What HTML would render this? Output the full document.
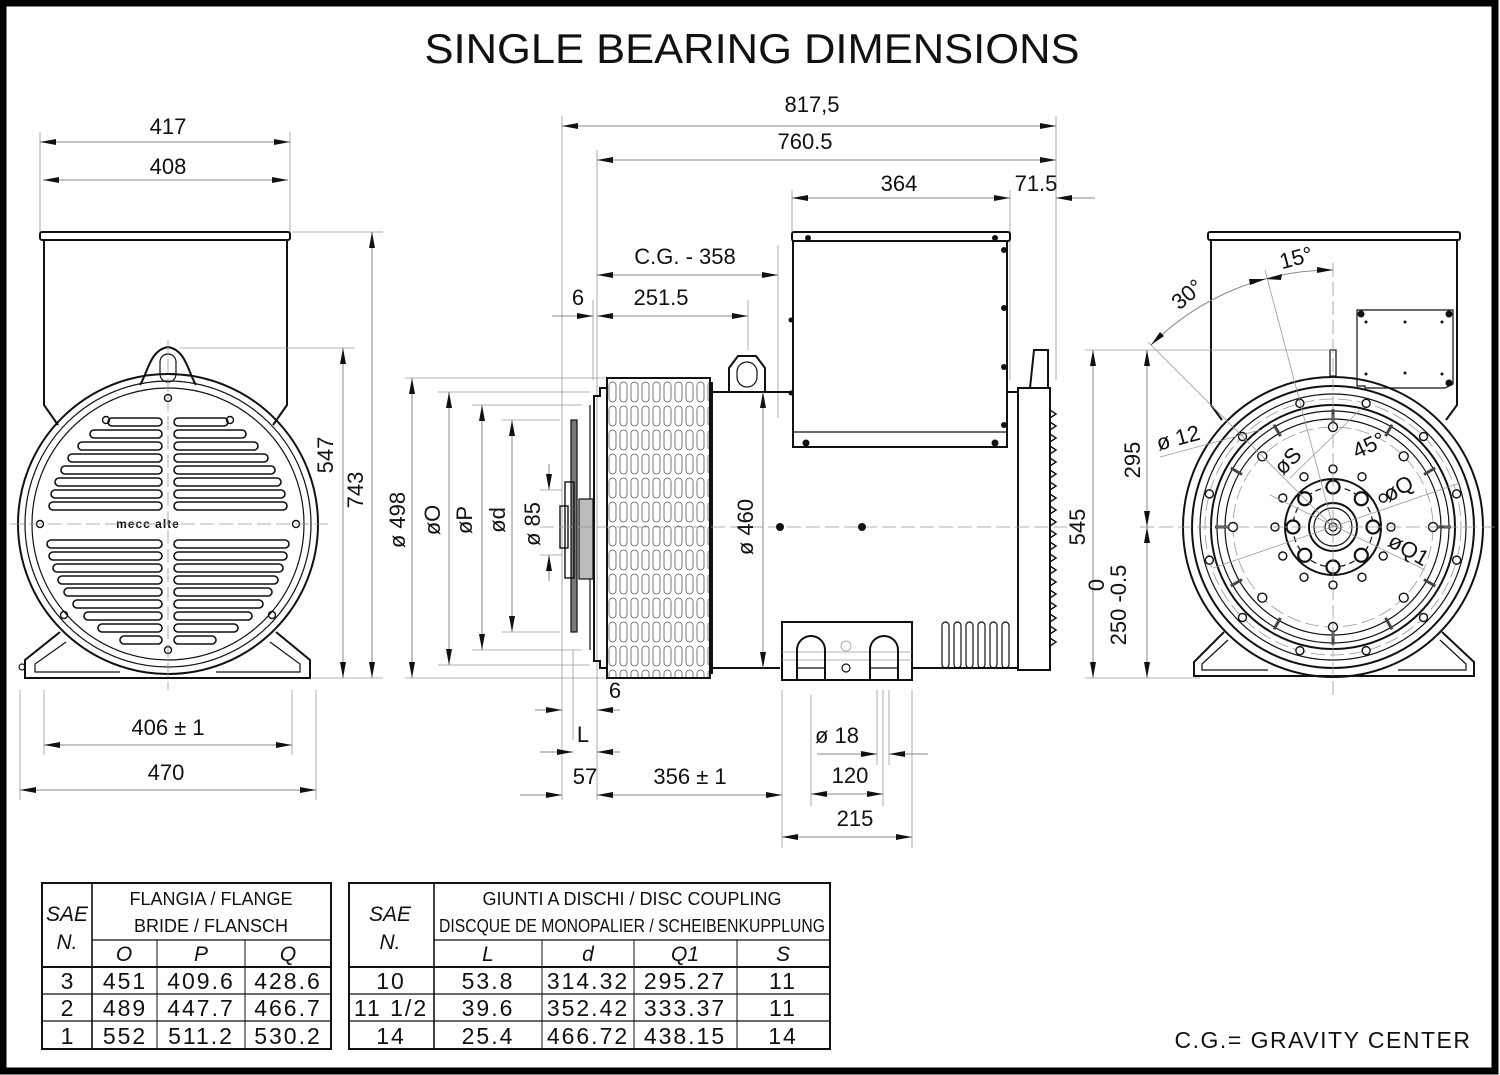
<!DOCTYPE html>
<html><head><meta charset="utf-8"><style>
html,body{margin:0;padding:0;background:#fff}
svg{display:block}
text{font-family:"Liberation Sans",sans-serif;fill:#111}
.d{stroke:#8a8a8a;stroke-width:1;fill:none}
.e{stroke:#9a9a9a;stroke-width:0.8;fill:none}
.k{stroke:#111;stroke-width:2;fill:none}
.t{stroke:#111;stroke-width:1.2;fill:none}
.c{stroke:#999;stroke-width:0.8;fill:none;stroke-dasharray:14 5}
.dt{font-size:22px}
.tb{font-size:23px;letter-spacing:2px}
.th{font-size:18px}
</style></head><body>
<svg width="1500" height="1075" viewBox="0 0 1500 1075" xmlns="http://www.w3.org/2000/svg">
<defs>
<marker id="a" viewBox="0 0 16 6" refX="16" refY="3" markerWidth="16" markerHeight="6" markerUnits="userSpaceOnUse" orient="auto-start-reverse"><path d="M0,0 L16,3 L0,6z" fill="#111"/></marker>
<pattern id="g" x="607" y="380" width="11" height="24" patternUnits="userSpaceOnUse"><rect x="2" y="2" width="7" height="20" rx="3.5" fill="none" stroke="#555" stroke-width="0.8"/></pattern>
</defs>
<rect x="0" y="0" width="1500" height="1075" fill="#fff"/>
<rect x="3" y="3" width="1492" height="1068" fill="none" stroke="#000" stroke-width="7"/>

<text x="752" y="63" font-size="42" text-anchor="middle" textLength="655" lengthAdjust="spacingAndGlyphs">SINGLE BEARING DIMENSIONS</text>

<!-- ============ LEFT VIEW ============ -->
<g>
<line class="e" x1="40" y1="132" x2="40" y2="232"/><line class="e" x1="290" y1="132" x2="290" y2="232"/>
<line class="d" x1="40" y1="142" x2="290" y2="142" marker-start="url(#a)" marker-end="url(#a)"/>
<text class="dt" x="168" y="134" text-anchor="middle">417</text>
<line class="d" x1="43" y1="180" x2="288" y2="180" marker-start="url(#a)" marker-end="url(#a)"/>
<text class="dt" x="168" y="174" text-anchor="middle">408</text>
<rect class="k" x="40" y="232" width="250" height="8" rx="2"/>
<path class="k" d="M44,240 V405 L58,425 M287,240 V405 L273,425"/>
<circle class="k" cx="168" cy="524" r="150" stroke-width="3"/>
<circle class="t" cx="168" cy="524" r="143"/>
<circle class="t" cx="168" cy="524" r="136"/>
<path class="k" d="M140,385 C148,372 150,350 168,347 C186,350 188,372 196,385"/>
<rect class="t" x="160" y="354" width="16" height="28" rx="8"/>
<path class="k" d="M60,632 L25,660 L25,678 L310,678 L310,660 L276,632"/>
<path class="t" d="M66,642 L35,664 L35,672 L120,672 M216,672 L300,672 L300,664 L270,642"/>
<circle class="t" cx="22" cy="667" r="3"/>
<g fill="none" stroke="#111" stroke-width="1.6">
<rect x="108" y="418" width="54" height="8" rx="4"/><rect x="174" y="418" width="54" height="8" rx="4"/>
<rect x="90" y="430" width="72" height="8" rx="4"/><rect x="174" y="430" width="72" height="8" rx="4"/>
<rect x="78" y="442" width="84" height="8" rx="4"/><rect x="174" y="442" width="84" height="8" rx="4"/>
<rect x="68" y="454" width="94" height="8" rx="4"/><rect x="174" y="454" width="94" height="8" rx="4"/>
<rect x="61" y="466" width="101" height="8" rx="4"/><rect x="174" y="466" width="101" height="8" rx="4"/>
<rect x="55" y="478" width="107" height="8" rx="4"/><rect x="174" y="478" width="107" height="8" rx="4"/>
<rect x="51" y="490" width="111" height="8" rx="4"/><rect x="174" y="490" width="111" height="8" rx="4"/>
<rect x="49" y="502" width="113" height="8" rx="4"/><rect x="174" y="502" width="113" height="8" rx="4"/>
<rect x="47" y="540" width="115" height="8" rx="4"/><rect x="174" y="540" width="115" height="8" rx="4"/>
<rect x="49" y="552" width="113" height="8" rx="4"/><rect x="174" y="552" width="113" height="8" rx="4"/>
<rect x="53" y="564" width="109" height="8" rx="4"/><rect x="174" y="564" width="109" height="8" rx="4"/>
<rect x="58" y="576" width="104" height="8" rx="4"/><rect x="174" y="576" width="104" height="8" rx="4"/>
<rect x="64" y="588" width="98" height="8" rx="4"/><rect x="174" y="588" width="98" height="8" rx="4"/>
<rect x="73" y="600" width="89" height="8" rx="4"/><rect x="174" y="600" width="89" height="8" rx="4"/>
<rect x="84" y="612" width="78" height="8" rx="4"/><rect x="174" y="612" width="78" height="8" rx="4"/>
<rect x="98" y="624" width="64" height="8" rx="4"/><rect x="174" y="624" width="64" height="8" rx="4"/>
<rect x="120" y="636" width="42" height="8" rx="4"/><rect x="174" y="636" width="42" height="8" rx="4"/>
</g>
<g fill="none" stroke="#111" stroke-width="1.4">
<circle cx="168" cy="398" r="3.5"/><circle cx="168" cy="650" r="3.5"/><circle cx="40" cy="524" r="3.5"/><circle cx="296" cy="524" r="3.5"/>
<circle cx="106" cy="420" r="3.5"/><circle cx="230" cy="420" r="3.5"/><circle cx="64" cy="615" r="3.5"/><circle cx="272" cy="615" r="3.5"/>
</g>
<text x="148" y="528" font-size="12" font-weight="bold" text-anchor="middle" letter-spacing="1">mecc alte</text>
<line class="c" x1="10" y1="524" x2="330" y2="524"/>
<line class="c" x1="168" y1="340" x2="168" y2="690"/>
<line class="e" x1="180" y1="348" x2="355" y2="348"/>
<line class="e" x1="292" y1="232" x2="383" y2="232"/>
<line class="e" x1="312" y1="678" x2="383" y2="678"/>
<line class="d" x1="343" y1="348" x2="343" y2="678" marker-start="url(#a)" marker-end="url(#a)"/>
<text class="dt" transform="translate(333,455) rotate(-90)" text-anchor="middle">547</text>
<line class="d" x1="372" y1="232" x2="372" y2="678" marker-start="url(#a)" marker-end="url(#a)"/>
<text class="dt" transform="translate(363,490) rotate(-90)" text-anchor="middle">743</text>
<line class="e" x1="44" y1="690" x2="44" y2="755"/><line class="e" x1="292" y1="690" x2="292" y2="755"/>
<line class="e" x1="20" y1="690" x2="20" y2="800"/><line class="e" x1="316" y1="690" x2="316" y2="800"/>
<line class="d" x1="44" y1="745" x2="292" y2="745" marker-start="url(#a)" marker-end="url(#a)"/>
<text class="dt" x="168" y="735" text-anchor="middle">406 ± 1</text>
<line class="d" x1="20" y1="790" x2="316" y2="790" marker-start="url(#a)" marker-end="url(#a)"/>
<text class="dt" x="166" y="780" text-anchor="middle">470</text>
</g>

<!-- ============ MIDDLE VIEW ============ -->
<g>
<line class="e" x1="562" y1="116" x2="562" y2="800"/>
<line class="e" x1="1056" y1="116" x2="1056" y2="380"/>
<line class="e" x1="597" y1="150" x2="597" y2="800"/>
<line class="e" x1="792" y1="190" x2="792" y2="232"/>
<line class="e" x1="1010" y1="190" x2="1010" y2="380"/>
<line class="e" x1="778" y1="245" x2="778" y2="418"/>
<line class="e" x1="748" y1="300" x2="748" y2="350"/>
<line class="e" x1="593" y1="300" x2="593" y2="380"/>
<line class="d" x1="562" y1="126" x2="1056" y2="126" marker-start="url(#a)" marker-end="url(#a)"/>
<text class="dt" x="812" y="112" text-anchor="middle">817,5</text>
<line class="d" x1="597" y1="160" x2="1056" y2="160" marker-start="url(#a)" marker-end="url(#a)"/>
<text class="dt" x="805" y="149" text-anchor="middle">760.5</text>
<line class="d" x1="792" y1="198" x2="1010" y2="198" marker-start="url(#a)" marker-end="url(#a)"/>
<text class="dt" x="899" y="191" text-anchor="middle">364</text>
<line class="d" x1="1095" y1="198" x2="1056" y2="198" marker-end="url(#a)"/>
<text class="dt" x="1036" y="191" text-anchor="middle">71.5</text>
<line class="d" x1="597" y1="275" x2="778" y2="275" marker-start="url(#a)" marker-end="url(#a)"/>
<text class="dt" x="685" y="264" text-anchor="middle">C.G.  -  358</text>
<line class="d" x1="552" y1="316" x2="593" y2="316" marker-end="url(#a)"/>
<line class="d" x1="597" y1="316" x2="748" y2="316" marker-start="url(#a)" marker-end="url(#a)"/>
<text class="dt" x="578" y="305" text-anchor="middle">6</text>
<text class="dt" x="661" y="305" text-anchor="middle">251.5</text>

<rect class="k" x="792" y="232" width="218" height="9" rx="2"/>
<path class="k" d="M793,241 V447 H1007 V241"/>
<line class="t" x1="793" y1="432" x2="1007" y2="432"/>
<g fill="#111"><circle cx="808" cy="238" r="3"/><circle cx="995" cy="238" r="3"/><circle cx="806" cy="443" r="3.5"/><circle cx="995" cy="443" r="3.5"/><circle cx="1004" cy="250" r="3"/><circle cx="1004" cy="308" r="3"/><circle cx="1004" cy="367" r="3"/><circle cx="1004" cy="425" r="3"/><circle cx="791" cy="320" r="2.5"/><circle cx="791" cy="393" r="2.5"/></g>
<path class="k" d="M729,392 V368 L738,356 H756 L765,368 V392"/>
<rect class="t" x="737" y="362" width="20" height="25" rx="10"/>
<path class="k" d="M712,392 H793 M1007,392 H1018 M712,668 H780 M912,668 H1018"/>
<rect class="k" x="1018" y="388" width="32" height="282"/>
<path class="k" d="M1030,388 L1034,350 H1048 V388"/>
<g stroke="#111" stroke-width="1.4" fill="none">
<path d="M1050,410 l6,4 l-6,4 M1050,422 l6,4 l-6,4 M1050,434 l6,4 l-6,4 M1050,446 l6,4 l-6,4 M1050,458 l6,4 l-6,4 M1050,470 l6,4 l-6,4 M1050,482 l6,4 l-6,4 M1050,494 l6,4 l-6,4 M1050,506 l6,4 l-6,4 M1050,518 l6,4 l-6,4 M1050,530 l6,4 l-6,4 M1050,542 l6,4 l-6,4 M1050,554 l6,4 l-6,4 M1050,566 l6,4 l-6,4 M1050,578 l6,4 l-6,4 M1050,590 l6,4 l-6,4 M1050,602 l6,4 l-6,4 M1050,614 l6,4 l-6,4 M1050,626 l6,4 l-6,4 M1050,638 l6,4 l-6,4"/>
</g>
<g class="t" stroke-width="1.5"><rect x="942" y="622" width="7" height="46" rx="3.5"/><rect x="954" y="622" width="7" height="46" rx="3.5"/><rect x="966" y="622" width="7" height="46" rx="3.5"/><rect x="978" y="622" width="7" height="46" rx="3.5"/><rect x="990" y="622" width="7" height="46" rx="3.5"/><rect x="1002" y="622" width="7" height="46" rx="3.5"/></g>
<rect class="k" x="782" y="622" width="130" height="58"/>
<line class="e" x1="782" y1="652" x2="912" y2="652"/><line class="e" x1="782" y1="660" x2="912" y2="660"/>
<path class="k" d="M797,679 V650 A14,14 0 0 1 825,650 V679"/>
<path class="k" d="M870,679 V650 A14,14 0 0 1 898,650 V679"/>
<line class="t" x1="797" y1="668" x2="825" y2="668"/><line class="t" x1="870" y1="668" x2="898" y2="668"/>
<circle class="t" cx="846" cy="668" r="4"/><circle class="e" cx="846" cy="646" r="5"/>
<rect x="607" y="378" width="103" height="300" fill="url(#g)" stroke="#111" stroke-width="2"/>
<line class="k" x1="712" y1="382" x2="712" y2="674"/>
<path class="k" d="M607,388 H600 V396 H594 V661 H600 V668 H607"/>
<line class="t" x1="590" y1="405" x2="590" y2="650"/>
<rect x="571" y="420" width="6" height="212" fill="#777" stroke="#111" stroke-width="1.2"/>
<rect x="579" y="499" width="14" height="80" fill="#bbb" stroke="#111" stroke-width="1.2"/>
<rect x="565" y="482" width="9" height="96" fill="none" stroke="#111" stroke-width="1.4"/>
<rect x="560" y="506" width="8" height="42" fill="none" stroke="#111" stroke-width="1.4"/>
<line class="c" x1="540" y1="527" x2="1075" y2="527"/>
<circle cx="780" cy="527" r="4" fill="#111"/><circle cx="862" cy="527" r="4" fill="#111"/>
<line class="d" x1="763" y1="392" x2="763" y2="668" marker-start="url(#a)" marker-end="url(#a)"/>
<text class="dt" transform="translate(753,527) rotate(-90)" text-anchor="middle">ø 460</text>
<line class="e" x1="405" y1="378" x2="605" y2="378"/><line class="e" x1="405" y1="678" x2="605" y2="678"/>
<line class="e" x1="438" y1="392" x2="590" y2="392"/><line class="e" x1="438" y1="665" x2="590" y2="665"/>
<line class="e" x1="472" y1="405" x2="582" y2="405"/><line class="e" x1="472" y1="650" x2="582" y2="650"/>
<line class="e" x1="502" y1="420" x2="560" y2="420"/><line class="e" x1="502" y1="632" x2="560" y2="632"/>
<line class="e" x1="540" y1="490" x2="562" y2="490"/><line class="e" x1="540" y1="555" x2="562" y2="555"/>
<line class="d" x1="412" y1="378" x2="412" y2="678" marker-start="url(#a)" marker-end="url(#a)"/>
<line class="d" x1="449" y1="392" x2="449" y2="665" marker-start="url(#a)" marker-end="url(#a)"/>
<line class="d" x1="482" y1="405" x2="482" y2="650" marker-start="url(#a)" marker-end="url(#a)"/>
<line class="d" x1="512" y1="420" x2="512" y2="632" marker-start="url(#a)" marker-end="url(#a)"/>
<line class="d" x1="549" y1="464" x2="549" y2="490" marker-end="url(#a)"/>
<line class="d" x1="549" y1="581" x2="549" y2="555" marker-end="url(#a)"/>
<text class="dt" transform="translate(405,520) rotate(-90)" text-anchor="middle">ø 498</text>
<text class="dt" transform="translate(440,520) rotate(-90)" text-anchor="middle">øO</text>
<text class="dt" transform="translate(472,520) rotate(-90)" text-anchor="middle">øP</text>
<text class="dt" transform="translate(505,520) rotate(-90)" text-anchor="middle">ød</text>
<text class="dt" transform="translate(540,524) rotate(-90)" text-anchor="middle">ø 85</text>
<text class="dt" x="615" y="698" text-anchor="middle">6</text>
<line class="e" x1="573" y1="650" x2="573" y2="740"/>
<line class="d" x1="535" y1="710" x2="562" y2="710" marker-end="url(#a)"/>
<line class="d" x1="620" y1="710" x2="597" y2="710" marker-end="url(#a)"/>
<text class="dt" x="583" y="742" text-anchor="middle">L</text>
<line class="d" x1="540" y1="752" x2="573" y2="752" marker-end="url(#a)"/>
<line class="d" x1="620" y1="752" x2="597" y2="752" marker-end="url(#a)"/>
<text class="dt" x="585" y="784" text-anchor="middle">57</text>
<line class="d" x1="520" y1="795" x2="562" y2="795" marker-end="url(#a)"/>
<line class="d" x1="597" y1="795" x2="782" y2="795" marker-start="url(#a)" marker-end="url(#a)"/>
<text class="dt" x="690" y="784" text-anchor="middle">356 ± 1</text>
<line class="e" x1="782" y1="690" x2="782" y2="848"/>
<line class="e" x1="811" y1="695" x2="811" y2="806"/>
<line class="e" x1="877" y1="690" x2="877" y2="765"/><line class="e" x1="883" y1="690" x2="883" y2="806"/><line class="e" x1="889" y1="690" x2="889" y2="765"/>
<line class="e" x1="912" y1="690" x2="912" y2="848"/>
<line class="d" x1="817" y1="754" x2="877" y2="754" marker-end="url(#a)"/>
<line class="d" x1="928" y1="754" x2="889" y2="754" marker-end="url(#a)"/>
<text class="dt" x="837" y="743" text-anchor="middle">ø 18</text>
<line class="d" x1="811" y1="794" x2="883" y2="794" marker-start="url(#a)" marker-end="url(#a)"/>
<text class="dt" x="850" y="783" text-anchor="middle">120</text>
<line class="d" x1="782" y1="837" x2="912" y2="837" marker-start="url(#a)" marker-end="url(#a)"/>
<text class="dt" x="855" y="826" text-anchor="middle">215</text>
</g>

<!-- ============ RIGHT VIEW ============ -->
<g>
<rect class="k" x="1208" y="232" width="252" height="8" rx="2"/>
<path class="k" d="M1211,240 V405 L1222,420 M1457,240 V405 L1446,420"/>
<path class="t" d="M1357,310 H1453 V384 L1445,388 H1365 V386 H1357 Z"/>
<g fill="#111"><circle cx="1361" cy="314" r="3.5"/><circle cx="1449" cy="314" r="3.5"/><circle cx="1449" cy="383" r="3.5"/><circle cx="1366" cy="322" r="1.5"/><circle cx="1405" cy="322" r="1.5"/><circle cx="1442" cy="322" r="1.5"/><circle cx="1366" cy="374" r="1.5"/><circle cx="1405" cy="373" r="1.5"/><circle cx="1442" cy="374" r="1.5"/></g>
<rect class="t" x="1330" y="350" width="6" height="26"/>
<path class="k" d="M1224,632 L1194,662 V676 H1474 V662 L1442,632"/>
<path class="t" d="M1228,640 L1202,664 V670 H1268 M1398,670 H1466 V664 L1440,640"/>
<circle class="k" cx="1333" cy="527" r="150" stroke-width="3"/>
<circle class="k" cx="1333" cy="527" r="141"/>
<circle class="t" cx="1333" cy="527" r="133"/>
<circle class="c" cx="1333" cy="527" r="128"/>
<circle class="k" cx="1333" cy="527" r="122"/>
<circle class="t" cx="1333" cy="527" r="116"/>
<circle class="t" cx="1333" cy="527" r="108"/>
<circle class="c" cx="1333" cy="527" r="100"/>
<g stroke="#444" stroke-width="3">
<line x1="1333" y1="409" x2="1333" y2="422"/>
<line x1="1333" y1="409" x2="1333" y2="422" transform="rotate(30 1333 527)"/>
<line x1="1333" y1="409" x2="1333" y2="422" transform="rotate(60 1333 527)"/>
<line x1="1333" y1="409" x2="1333" y2="422" transform="rotate(90 1333 527)"/>
<line x1="1333" y1="409" x2="1333" y2="422" transform="rotate(120 1333 527)"/>
<line x1="1333" y1="409" x2="1333" y2="422" transform="rotate(150 1333 527)"/>
<line x1="1333" y1="409" x2="1333" y2="422" transform="rotate(180 1333 527)"/>
<line x1="1333" y1="409" x2="1333" y2="422" transform="rotate(210 1333 527)"/>
<line x1="1333" y1="409" x2="1333" y2="422" transform="rotate(240 1333 527)"/>
<line x1="1333" y1="409" x2="1333" y2="422" transform="rotate(270 1333 527)"/>
<line x1="1333" y1="409" x2="1333" y2="422" transform="rotate(300 1333 527)"/>
<line x1="1333" y1="409" x2="1333" y2="422" transform="rotate(330 1333 527)"/>
</g>
<g fill="#fff" stroke="#111" stroke-width="1.4">
<circle cx="1333" cy="399" r="4" transform="rotate(15 1333 527)"/><circle cx="1333" cy="399" r="4" transform="rotate(45 1333 527)"/><circle cx="1333" cy="399" r="4" transform="rotate(75 1333 527)"/><circle cx="1333" cy="399" r="4" transform="rotate(105 1333 527)"/><circle cx="1333" cy="399" r="4" transform="rotate(135 1333 527)"/><circle cx="1333" cy="399" r="4" transform="rotate(165 1333 527)"/><circle cx="1333" cy="399" r="4" transform="rotate(195 1333 527)"/><circle cx="1333" cy="399" r="4" transform="rotate(225 1333 527)"/><circle cx="1333" cy="399" r="4" transform="rotate(255 1333 527)"/><circle cx="1333" cy="399" r="4" transform="rotate(285 1333 527)"/><circle cx="1333" cy="399" r="4" transform="rotate(315 1333 527)"/><circle cx="1333" cy="399" r="4" transform="rotate(345 1333 527)"/>
<circle cx="1333" cy="427" r="4.5"/><circle cx="1333" cy="427" r="4.5" transform="rotate(45 1333 527)"/><circle cx="1333" cy="427" r="4.5" transform="rotate(90 1333 527)"/><circle cx="1333" cy="427" r="4.5" transform="rotate(135 1333 527)"/><circle cx="1333" cy="427" r="4.5" transform="rotate(180 1333 527)"/><circle cx="1333" cy="427" r="4.5" transform="rotate(225 1333 527)"/><circle cx="1333" cy="427" r="4.5" transform="rotate(270 1333 527)"/><circle cx="1333" cy="427" r="4.5" transform="rotate(315 1333 527)"/>
</g>
<circle class="k" cx="1333" cy="527" r="48"/>
<circle class="t" cx="1333" cy="527" r="40" stroke-dasharray="6 4"/>
<g fill="#fff" stroke="#111" stroke-width="1.4">
<circle cx="1333" cy="469" r="4"/><circle cx="1333" cy="469" r="4" transform="rotate(30 1333 527)"/><circle cx="1333" cy="469" r="4" transform="rotate(60 1333 527)"/><circle cx="1333" cy="469" r="4" transform="rotate(90 1333 527)"/><circle cx="1333" cy="469" r="4" transform="rotate(120 1333 527)"/><circle cx="1333" cy="469" r="4" transform="rotate(150 1333 527)"/><circle cx="1333" cy="469" r="4" transform="rotate(180 1333 527)"/><circle cx="1333" cy="469" r="4" transform="rotate(210 1333 527)"/><circle cx="1333" cy="469" r="4" transform="rotate(240 1333 527)"/><circle cx="1333" cy="469" r="4" transform="rotate(270 1333 527)"/><circle cx="1333" cy="469" r="4" transform="rotate(300 1333 527)"/><circle cx="1333" cy="469" r="4" transform="rotate(330 1333 527)"/>
</g>
<g fill="#fff" stroke="#111" stroke-width="2.2">
<circle cx="1333" cy="487" r="6.5"/><circle cx="1333" cy="487" r="6.5" transform="rotate(45 1333 527)"/><circle cx="1333" cy="487" r="6.5" transform="rotate(90 1333 527)"/><circle cx="1333" cy="487" r="6.5" transform="rotate(135 1333 527)"/><circle cx="1333" cy="487" r="6.5" transform="rotate(180 1333 527)"/><circle cx="1333" cy="487" r="6.5" transform="rotate(225 1333 527)"/><circle cx="1333" cy="487" r="6.5" transform="rotate(270 1333 527)"/><circle cx="1333" cy="487" r="6.5" transform="rotate(315 1333 527)"/>
</g>
<circle class="k" cx="1333" cy="527" r="24" stroke-width="2.5"/>
<circle class="t" cx="1333" cy="527" r="19"/>
<circle class="t" cx="1333" cy="527" r="8"/>
<circle class="t" cx="1333" cy="527" r="4"/>
<line class="c" x1="1140" y1="527" x2="1495" y2="527"/>
<line class="c" x1="1333" y1="263" x2="1333" y2="700"/>
<line class="e" x1="1333" y1="527" x2="1265" y2="270"/>
<line class="e" x1="1333" y1="527" x2="1148" y2="342"/>
<path class="d" d="M1333,270 A257,257 0 0 0 1151,345"/>
<path d="M1333,270 l-16,-3 v6z M1266,279 l16,-5 l-1,6z M1266,279 l-16,6 l-1,-6z M1151,345 l9,-13 l4,4z" fill="#111"/>
<text class="dt" transform="translate(1298,265) rotate(-15)" text-anchor="middle">15°</text>
<text class="dt" transform="translate(1192,300) rotate(-40)" text-anchor="middle">30°</text>
<line class="e" x1="1160" y1="457" x2="1260" y2="430"/>
<text class="dt" transform="translate(1180,445) rotate(-15)" text-anchor="middle">ø 12</text>
<line class="e" x1="1290" y1="478" x2="1360" y2="410"/>
<text class="dt" transform="translate(1293,466) rotate(-45)" text-anchor="middle">øS</text>
<text class="dt" transform="translate(1372,452) rotate(-25)" text-anchor="middle">45°</text>
<line class="e" x1="1213" y1="568" x2="1460" y2="483"/>
<text class="dt" transform="translate(1402,495) rotate(-30)" text-anchor="middle">øQ</text>
<line class="e" x1="1270" y1="495" x2="1425" y2="570"/>
<text class="dt" transform="translate(1405,556) rotate(30)" text-anchor="middle">øQ1</text>
<line class="e" x1="1085" y1="350" x2="1330" y2="350"/>
<line class="e" x1="1085" y1="678" x2="1200" y2="678"/>
<line class="d" x1="1093" y1="350" x2="1093" y2="678" marker-start="url(#a)" marker-end="url(#a)"/>
<text class="dt" transform="translate(1085,527) rotate(-90)" text-anchor="middle">545</text>
<line class="d" x1="1147" y1="350" x2="1147" y2="527" marker-start="url(#a)" marker-end="url(#a)"/>
<text class="dt" transform="translate(1140,460) rotate(-90)" text-anchor="middle">295</text>
<line class="d" x1="1147" y1="527" x2="1147" y2="678" marker-start="url(#a)" marker-end="url(#a)"/>
<text class="dt" transform="translate(1126,605) rotate(-90)" text-anchor="middle">250 -0.5</text>
<text class="dt" transform="translate(1104,585) rotate(-90)" text-anchor="middle">0</text>
</g>

<!-- ============ TABLES ============ -->
<g stroke="#111" fill="none">
<rect x="42" y="883" width="289" height="166" stroke-width="2"/>
<line x1="92" y1="883" x2="92" y2="1049" stroke-width="1.6"/>
<line x1="92" y1="940" x2="331" y2="940" stroke-width="1.2"/>
<line x1="42" y1="967" x2="331" y2="967" stroke-width="2"/>
<line x1="42" y1="994" x2="331" y2="994" stroke-width="1.2"/>
<line x1="42" y1="1021" x2="331" y2="1021" stroke-width="1.2"/>
<line x1="157" y1="940" x2="157" y2="1049" stroke-width="1"/>
<line x1="245" y1="940" x2="245" y2="1049" stroke-width="1"/>
<rect x="349" y="883" width="481" height="166" stroke-width="2"/>
<line x1="434" y1="883" x2="434" y2="1049" stroke-width="1.6"/>
<line x1="434" y1="940" x2="830" y2="940" stroke-width="1.2"/>
<line x1="349" y1="967" x2="830" y2="967" stroke-width="2"/>
<line x1="349" y1="994" x2="830" y2="994" stroke-width="1.2"/>
<line x1="349" y1="1021" x2="830" y2="1021" stroke-width="1.2"/>
<line x1="542" y1="940" x2="542" y2="1049" stroke-width="1"/>
<line x1="634" y1="940" x2="634" y2="1049" stroke-width="1"/>
<line x1="737" y1="940" x2="737" y2="1049" stroke-width="1"/>
</g>
<g text-anchor="middle">
<text x="67" y="921" font-size="21" font-style="italic">SAE</text>
<text x="67" y="949" font-size="21" font-style="italic">N.</text>
<text class="th" x="211" y="905">FLANGIA  /  FLANGE</text>
<text class="th" x="211" y="932">BRIDE  /  FLANSCH</text>
<text x="124" y="961" font-size="21" font-style="italic">O</text>
<text x="201" y="961" font-size="21" font-style="italic">P</text>
<text x="288" y="961" font-size="21" font-style="italic">Q</text>
<text class="tb" x="68" y="989">3</text><text class="tb" x="125" y="989">451</text><text class="tb" x="201" y="989">409.6</text><text class="tb" x="288" y="989">428.6</text>
<text class="tb" x="68" y="1016">2</text><text class="tb" x="125" y="1016">489</text><text class="tb" x="201" y="1016">447.7</text><text class="tb" x="288" y="1016">466.7</text>
<text class="tb" x="68" y="1044">1</text><text class="tb" x="125" y="1044">552</text><text class="tb" x="201" y="1044">511.2</text><text class="tb" x="288" y="1044">530.2</text>
<text x="390" y="921" font-size="21" font-style="italic">SAE</text>
<text x="390" y="949" font-size="21" font-style="italic">N.</text>
<text class="th" x="632" y="905">GIUNTI  A  DISCHI  /  DISC  COUPLING</text>
<text class="th" x="632" y="932" textLength="386" lengthAdjust="spacingAndGlyphs">DISCQUE DE MONOPALIER / SCHEIBENKUPPLUNG</text>
<text x="488" y="961" font-size="21" font-style="italic">L</text>
<text x="588" y="961" font-size="21" font-style="italic">d</text>
<text x="685" y="961" font-size="21" font-style="italic">Q1</text>
<text x="783" y="961" font-size="21" font-style="italic">S</text>
<text class="tb" x="391" y="989">10</text><text class="tb" x="488" y="989">53.8</text><text class="tb" x="588" y="989">314.32</text><text class="tb" x="685" y="989">295.27</text><text class="tb" x="783" y="989">11</text>
<text class="tb" x="391" y="1016">11  1/2</text><text class="tb" x="488" y="1016">39.6</text><text class="tb" x="588" y="1016">352.42</text><text class="tb" x="685" y="1016">333.37</text><text class="tb" x="783" y="1016">11</text>
<text class="tb" x="391" y="1044">14</text><text class="tb" x="488" y="1044">25.4</text><text class="tb" x="588" y="1044">466.72</text><text class="tb" x="685" y="1044">438.15</text><text class="tb" x="783" y="1044">14</text>
</g>
<text x="1323" y="1048" font-size="23" text-anchor="middle" letter-spacing="1.5">C.G.= GRAVITY CENTER</text>
</svg>
</body></html>
